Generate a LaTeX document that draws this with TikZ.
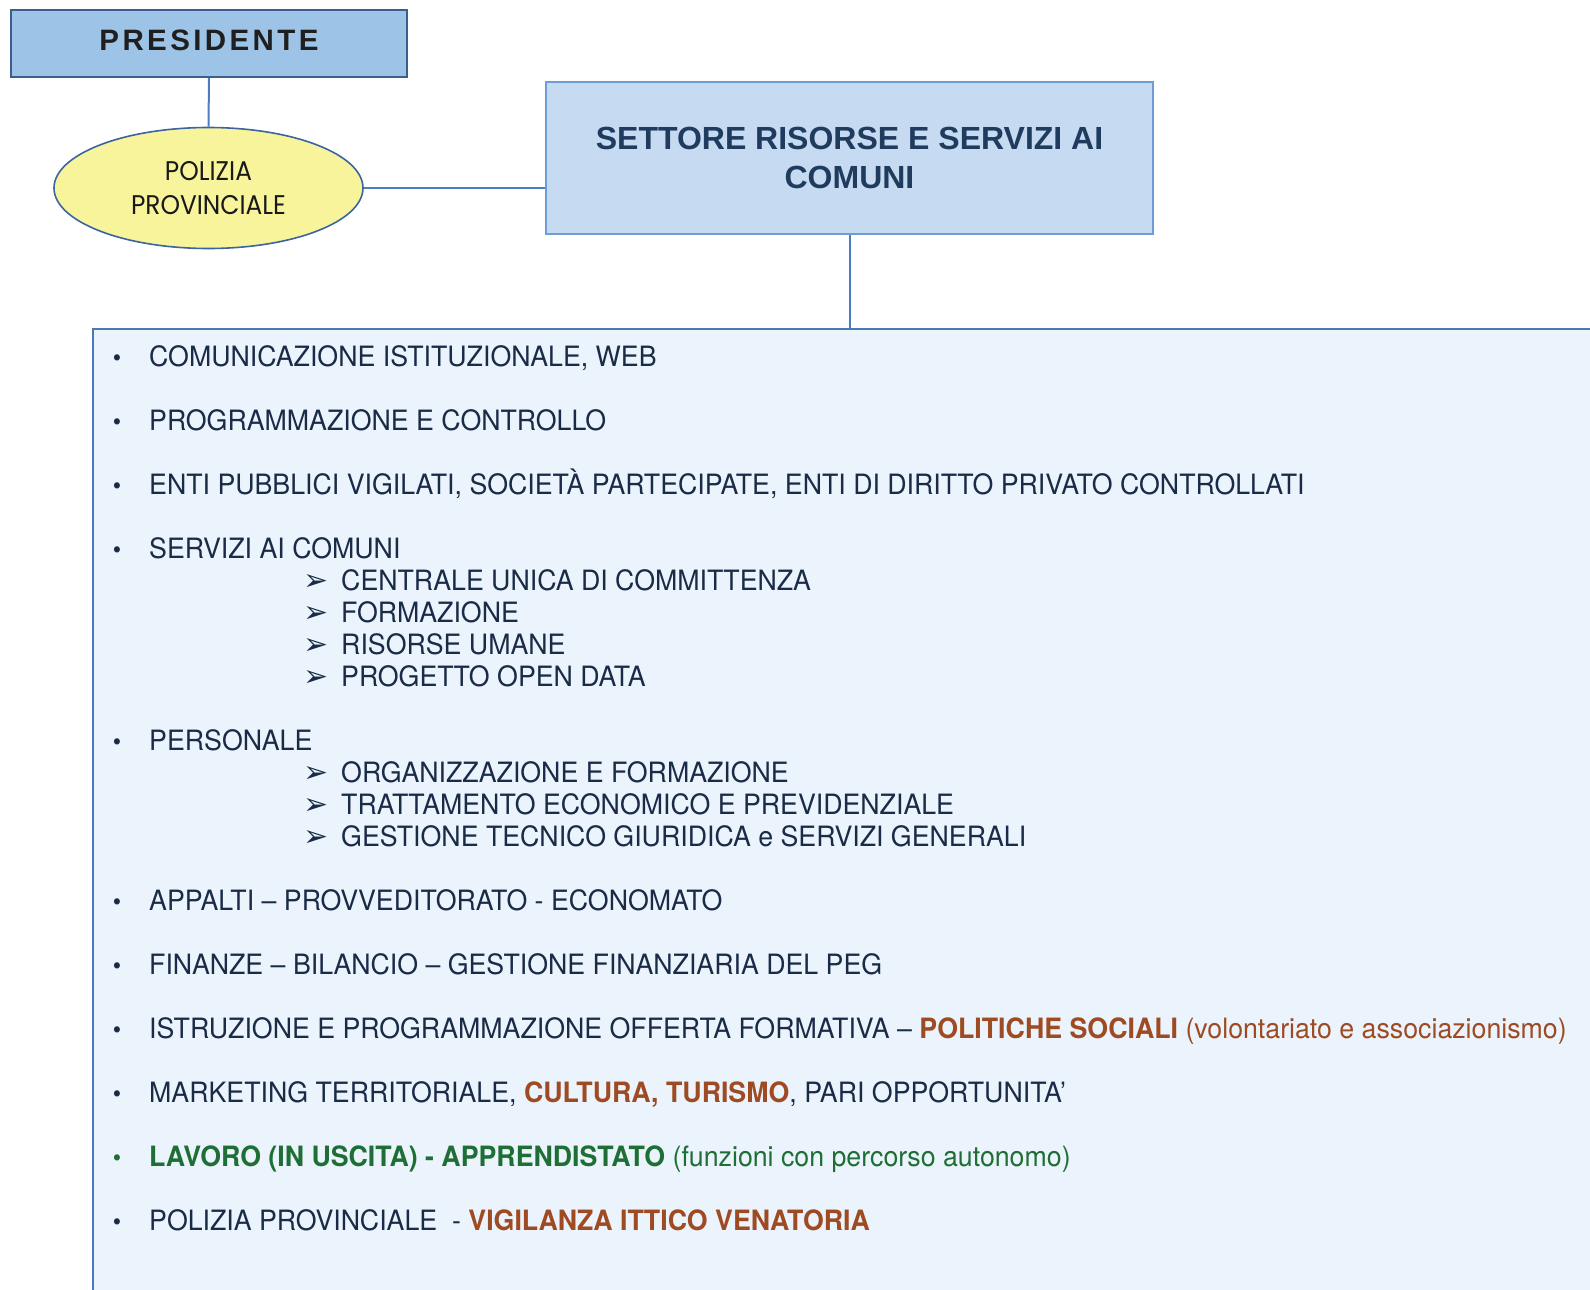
\documentclass[tikz,border=0pt]{standalone}
\usepackage{fontspec}
\setmainfont{TeX Gyre Heros}
\newfontfamily\listfont[FakeStretch=0.955]{TeX Gyre Heros}
\newfontfamily\headfont{Liberation Sans}
\newfontfamily\presfont[LetterSpace=11.5]{Liberation Sans}
\newfontfamily\ellfont[FakeStretch=0.92]{Poppins}
\newfontfamily\symfont{DejaVu Sans}
\usetikzlibrary{shapes.geometric}
\definecolor{navy}{HTML}{1A2B48}
\definecolor{headnavy}{HTML}{1F3B5E}
\definecolor{rust}{HTML}{9E4A22}
\definecolor{leaf}{HTML}{1F6E35}
\definecolor{presfill}{HTML}{9DC3E6}
\definecolor{presline}{HTML}{3A5F8F}
\definecolor{ellfill}{HTML}{F7F49B}
\definecolor{ellline}{HTML}{3B64A0}
\definecolor{setfill}{HTML}{C6DAF1}
\definecolor{setline}{HTML}{6E9DD6}
\definecolor{listfill}{HTML}{EBF4FC}
\definecolor{listline}{HTML}{4A78B8}
\definecolor{connline}{HTML}{4A7EBF}
\tikzset{
  conn/.style={draw=connline, line width=2pt},
  itemtext/.style={anchor=base west, inner sep=0pt, text=navy, font=\listfont\fontsize{28}{32}\selectfont},
  bulletmark/.style={anchor=base, inner sep=0pt, text=navy, font=\listfont\fontsize{25}{28}\selectfont},
  arrowmark/.style={anchor=base, inner sep=0pt, text=navy, font=\symfont\fontsize{30}{32}\selectfont},
}
\begin{document}
\begin{tikzpicture}[x=1pt,y=-1pt]
\useasboundingbox (0,0) rectangle (1590,1290);
\clip (0,0) rectangle (1590,1290);
% big list box
\node[draw=listline, fill=listfill, line width=2pt, anchor=north west, minimum width=1600pt, minimum height=1000pt, inner sep=0pt] (list) at (92,327.5) {};
% top nodes
\node[draw=presline, fill=presfill, line width=2pt, minimum width=396pt, minimum height=67pt, inner sep=0pt, text depth=6pt, text=black!88, font=\presfont\bfseries\fontsize{29.5}{33}\selectfont] (pres) at (209,43.5) {PRESIDENTE};
\node[ellipse, draw=ellline, fill=ellfill, line width=1.6pt, minimum width=309pt, minimum height=121pt, inner sep=0pt, align=center, text=black!90, font=\ellfont\fontsize{27}{33.5}\selectfont] (pol) at (208.5,188) {POLIZIA\\PROVINCIALE};
\node[draw=setline, fill=setfill, line width=1.6pt, minimum width=607pt, minimum height=152pt, inner sep=0pt, align=center, text=headnavy, font=\headfont\bfseries\fontsize{32}{38.5}\selectfont] (set) at (849.5,158) {SETTORE RISORSE E SERVIZI AI\\COMUNI};
% connectors
\draw[conn] (pres.south) -- (pol.north);
\draw[conn] (pol.east) -- (pol.east -| set.west);
\draw[conn] (set.south) -- (set.south |- list.north);
% list items
\node[bulletmark] (b1) at (117,366) {•};
\node[itemtext] (t1) at (149,366) {COMUNICAZIONE ISTITUZIONALE, WEB};
\node[bulletmark] (b2) at (117,430) {•};
\node[itemtext] (t2) at (149,430) {PROGRAMMAZIONE E CONTROLLO};
\node[bulletmark] (b3) at (117,494) {•};
\node[itemtext] (t3) at (149,494) {ENTI PUBBLICI VIGILATI, SOCIETÀ PARTECIPATE, ENTI DI DIRITTO PRIVATO CONTROLLATI};
\node[bulletmark] (b4) at (117,558) {•};
\node[itemtext] (t4) at (149,558) {SERVIZI AI COMUNI};
\node[arrowmark] (a41) at (316,590) {➢};
\node[itemtext] (s41) at (341,590) {CENTRALE UNICA DI COMMITTENZA};
\node[arrowmark] (a42) at (316,622) {➢};
\node[itemtext] (s42) at (341,622) {FORMAZIONE};
\node[arrowmark] (a43) at (316,654) {➢};
\node[itemtext] (s43) at (341,654) {RISORSE UMANE};
\node[arrowmark] (a44) at (316,686) {➢};
\node[itemtext] (s44) at (341,686) {PROGETTO OPEN DATA};
\node[bulletmark] (b5) at (117,750) {•};
\node[itemtext] (t5) at (149,750) {PERSONALE};
\node[arrowmark] (a51) at (316,782) {➢};
\node[itemtext] (s51) at (341,782) {ORGANIZZAZIONE E FORMAZIONE};
\node[arrowmark] (a52) at (316,814) {➢};
\node[itemtext] (s52) at (341,814) {TRATTAMENTO ECONOMICO E PREVIDENZIALE};
\node[arrowmark] (a53) at (316,846) {➢};
\node[itemtext] (s53) at (341,846) {GESTIONE TECNICO GIURIDICA e SERVIZI GENERALI};
\node[bulletmark] (b6) at (117,910) {•};
\node[itemtext] (t6) at (149,910) {APPALTI – PROVVEDITORATO - ECONOMATO};
\node[bulletmark] (b7) at (117,974) {•};
\node[itemtext] (t7) at (149,974) {FINANZE – BILANCIO – GESTIONE FINANZIARIA DEL PEG};
\node[bulletmark] (b8) at (117,1038) {•};
\node[itemtext] (t8) at (149,1038) {ISTRUZIONE E PROGRAMMAZIONE OFFERTA FORMATIVA – {\color{rust}\bfseries POLITICHE SOCIALI} {\color{rust}(volontariato e associazionismo)}};
\node[bulletmark] (b9) at (117,1102) {•};
\node[itemtext] (t9) at (149,1102) {MARKETING TERRITORIALE, {\color{rust}\bfseries CULTURA, TURISMO}, PARI OPPORTUNITA’};
\node[bulletmark, text=leaf] (b10) at (117,1166) {•};
\node[itemtext, text=leaf] (t10) at (149,1166) {{\bfseries LAVORO (IN USCITA) - APPRENDISTATO} (funzioni con percorso autonomo)};
\node[bulletmark] (b11) at (117,1230) {•};
\node[itemtext] (t11) at (149,1230) {POLIZIA PROVINCIALE~\ - {\color{rust}\bfseries VIGILANZA ITTICO VENATORIA}};
\end{tikzpicture}
\end{document}
